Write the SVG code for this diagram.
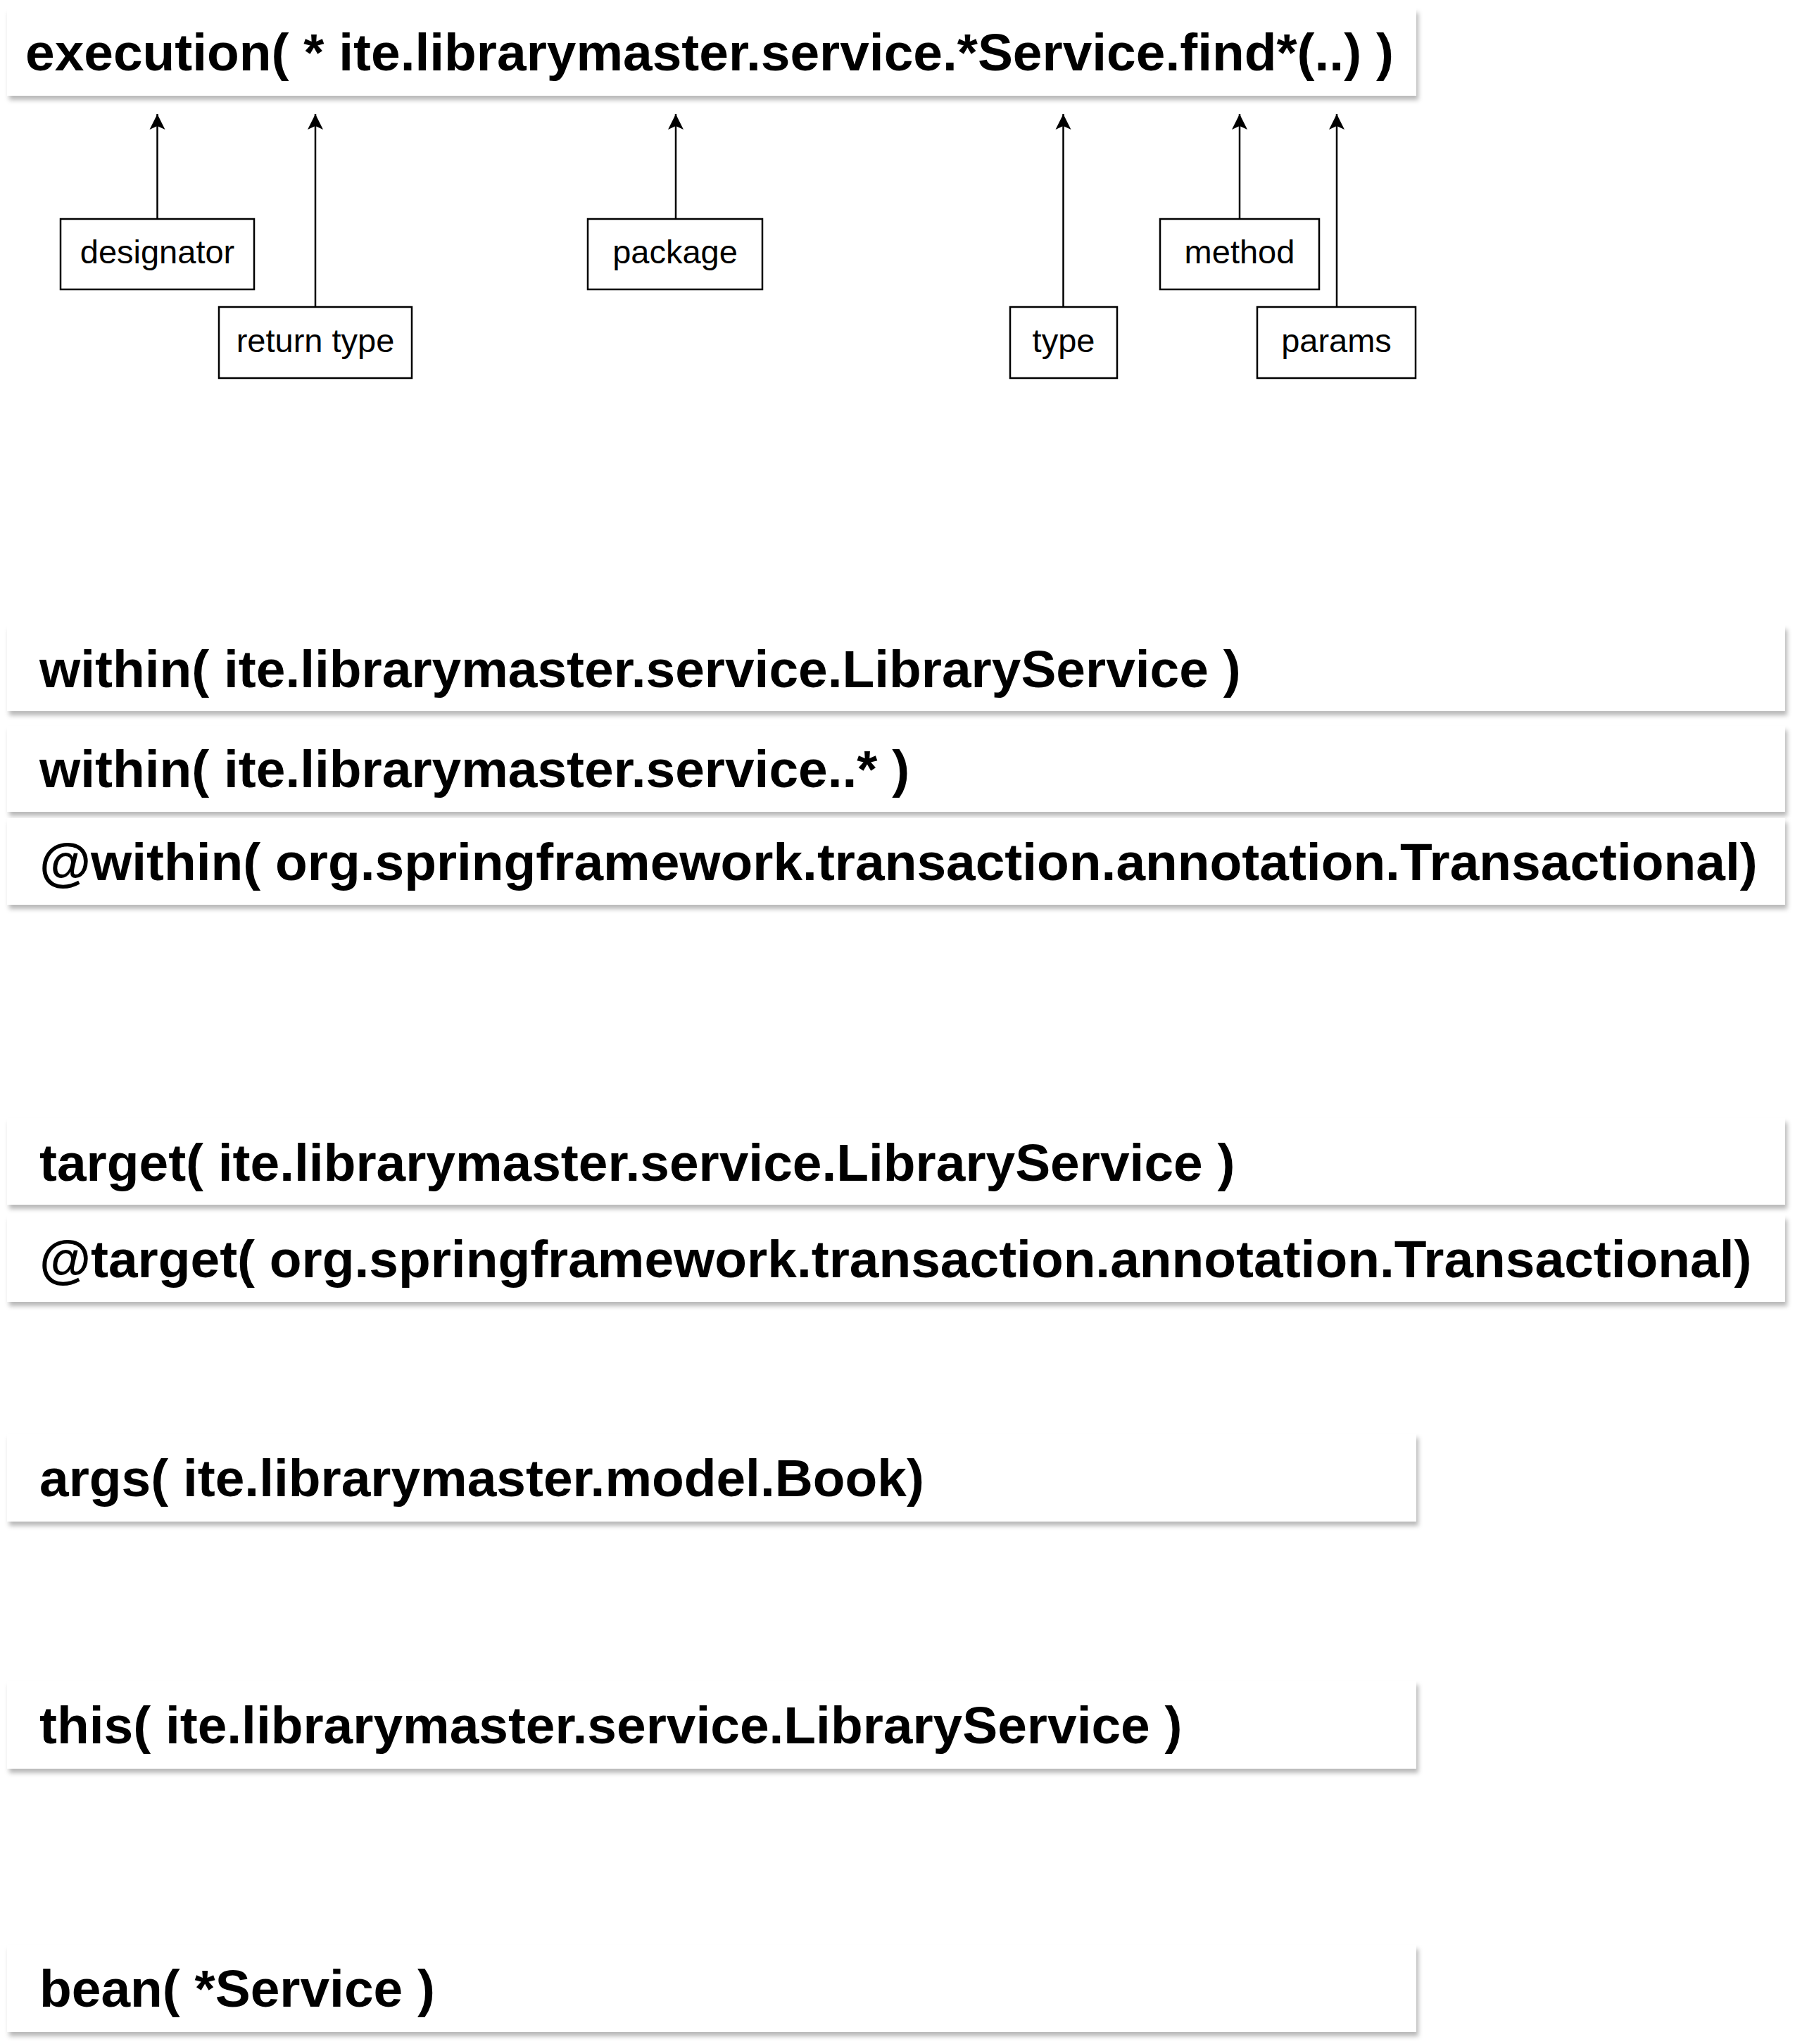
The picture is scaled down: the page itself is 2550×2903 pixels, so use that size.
<svg xmlns="http://www.w3.org/2000/svg" width="2550" height="2903" viewBox="0 0 2550 2903">
<defs>
<filter id="sh" x="-5%" y="-30%" width="110%" height="170%">
<feDropShadow dx="3" dy="6" stdDeviation="3" flood-color="#000" flood-opacity="0.28"/>
</filter>
<marker id="ah" markerUnits="userSpaceOnUse" markerWidth="30" markerHeight="30" viewBox="-25 -15 30 30" refX="0" refY="0" orient="auto">
<path d="M0,0 L-22,-11 L-17,0 L-22,11 Z" fill="#000"/>
</marker>
</defs>
<style>
.expr{fill:#fff;filter:url(#sh)}
.et{font-family:"Liberation Sans",Arial,sans-serif;font-weight:bold;font-size:74.9px;fill:#000}
.lb{fill:#fff;stroke:#000;stroke-width:2.5}
.lt{font-family:"Liberation Sans",Arial,sans-serif;font-size:47px;fill:#000;text-anchor:middle}
.cn{stroke:#000;stroke-width:2.5;fill:none;marker-end:url(#ah)}
</style>
<rect width="2550" height="2903" fill="#fff"/>
<g id="execution">
<rect class="expr" x="10" y="12" width="2002" height="124"/>
<text class="et" x="36" y="100">execution( * ite.librarymaster.service.*Service.find*(..) )</text>
</g>
<g id="designator"><rect class="lb" x="86" y="311" width="275" height="100"/><text class="lt" x="223.5" y="374">designator</text></g>
<g id="return-type"><rect class="lb" x="311" y="436" width="274" height="101"/><text class="lt" x="448" y="500">return type</text></g>
<g id="package"><rect class="lb" x="835" y="311" width="248" height="100"/><text class="lt" x="959" y="374">package</text></g>
<g id="type"><rect class="lb" x="1435" y="436" width="152" height="101"/><text class="lt" x="1511" y="500">type</text></g>
<g id="method"><rect class="lb" x="1648" y="311" width="226" height="100"/><text class="lt" x="1761" y="374">method</text></g>
<g id="params"><rect class="lb" x="1786" y="436" width="225" height="101"/><text class="lt" x="1898.5" y="500">params</text></g>
<g id="connectors">
<path class="cn" d="M223.5,311 V162"/>
<path class="cn" d="M448,436 V162"/>
<path class="cn" d="M960,311 V162"/>
<path class="cn" d="M1510.5,436 V162"/>
<path class="cn" d="M1761,311 V162"/>
<path class="cn" d="M1899,436 V162"/>
</g>
<g id="within-class">
<rect class="expr" x="10" y="888" width="2526" height="122"/>
<text class="et" x="56" y="976">within( ite.librarymaster.service.LibraryService )</text>
</g>
<g id="within-package">
<rect class="expr" x="10" y="1031" width="2526" height="122"/>
<text class="et" x="56" y="1118">within( ite.librarymaster.service..* )</text>
</g>
<g id="at-within">
<rect class="expr" x="10" y="1162" width="2526" height="123"/>
<text class="et" x="56" y="1250">@within( org.springframework.transaction.annotation.Transactional)</text>
</g>
<g id="target">
<rect class="expr" x="10" y="1588" width="2526" height="123"/>
<text class="et" x="56" y="1677">target( ite.librarymaster.service.LibraryService )</text>
</g>
<g id="at-target">
<rect class="expr" x="10" y="1726" width="2526" height="123"/>
<text class="et" x="56" y="1814">@target( org.springframework.transaction.annotation.Transactional)</text>
</g>
<g id="args">
<rect class="expr" x="10" y="2036" width="2002" height="125"/>
<text class="et" x="56" y="2125">args( ite.librarymaster.model.Book)</text>
</g>
<g id="this">
<rect class="expr" x="10" y="2387" width="2002" height="125"/>
<text class="et" x="56" y="2476">this( ite.librarymaster.service.LibraryService )</text>
</g>
<g id="bean">
<rect class="expr" x="10" y="2762" width="2002" height="124"/>
<text class="et" x="56" y="2850">bean( *Service )</text>
</g>
</svg>
